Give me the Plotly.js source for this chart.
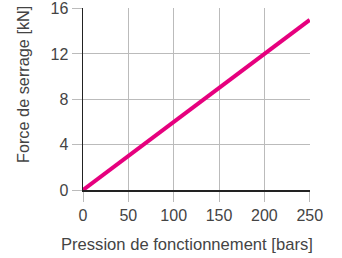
<!DOCTYPE html>
<html><head><meta charset="utf-8">
<script src="https://cdn.plot.ly/plotly-3.0.1.min.js"></script>
<style>html,body{margin:0;padding:0;background:#fff}#c{width:342px;height:258px}</style>
</head><body><div id="c"></div>
<script>
var pressure = [0, 50, 100, 150, 200, 250];
var force = [0, 3, 6, 9, 12, 15];
var xTicks = [0, 50, 100, 150, 200, 250];
var yTicks = [0, 4, 8, 12, 16];
var xTitle = 'Pression de fonctionnement [bars]';
var yTitle = 'Force de serrage [kN]';

var fam = 'Liberation Sans, Arial, sans-serif';
var tickFont = {family: fam, size: 16, color: '#444'};
Plotly.newPlot('c', [{
  x: pressure, y: force, type: 'scatter', mode: 'lines',
  line: {color: '#e6007e', width: 4}, hoverinfo: 'skip', cliponaxis: false
}], {
  width: 342, height: 258,
  margin: {l: 83, r: 32, t: 8, b: 68},
  paper_bgcolor: '#fff', plot_bgcolor: '#fff',
  font: tickFont, showlegend: false,
  xaxis: {range: [0, 250.3], tickvals: xTicks, ticks: 'outside', ticklen: 10, tickcolor: '#bbb', tickwidth: 1,
    showgrid: true, gridcolor: '#bbb', gridwidth: 1, zeroline: false, ticklabeloverflow: 'allow',
    showline: true, linecolor: '#222', linewidth: 1.5, tickfont: tickFont},
  yaxis: {range: [0, 16.05], tickvals: yTicks, ticks: 'outside', ticklen: 10, tickcolor: '#bbb', tickwidth: 1,
    showgrid: true, gridcolor: '#bbb', gridwidth: 1, zeroline: false, ticklabeloverflow: 'allow',
    showline: true, linecolor: '#222', linewidth: 1.5, tickfont: tickFont},
  annotations: [
    {text: xTitle, xref: 'paper', yref: 'paper', x: 0.46, y: -0.297, xanchor: 'center', yanchor: 'middle',
     showarrow: false, font: {family: fam, size: 16.6, color: '#444'}},
    {text: yTitle, xref: 'paper', yref: 'paper', x: -0.264, y: 0.577, xanchor: 'center', yanchor: 'middle',
     textangle: -90, showarrow: false, font: {family: fam, size: 16.3, color: '#444'}}
  ]
}, {staticPlot: true});
</script></body></html>
